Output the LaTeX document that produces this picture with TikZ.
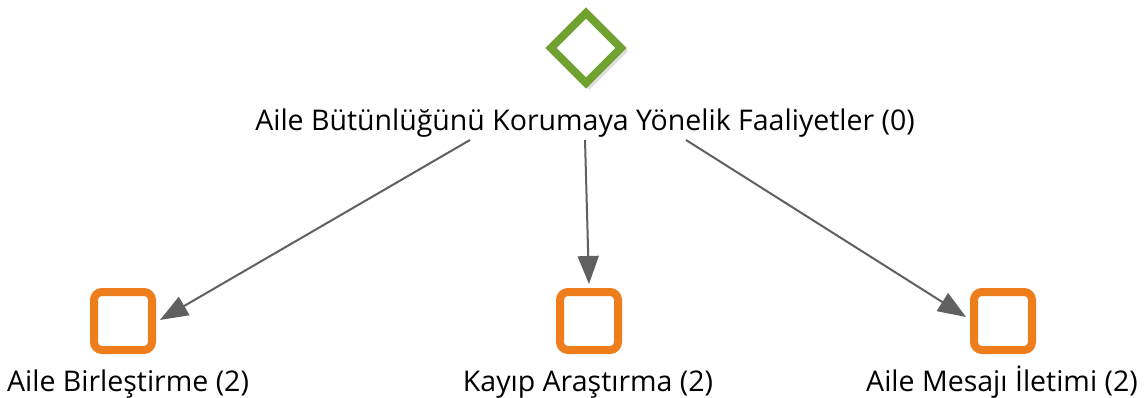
\documentclass[tikz,border=0pt]{standalone}
\usepackage{fontspec}
\setmainfont{Open Sans}
\usetikzlibrary{arrows.meta,shadows}
\definecolor{leafgreen}{HTML}{6FA22E}
\definecolor{boxorange}{HTML}{EE7D1C}
\definecolor{linkgray}{HTML}{606060}
\tikzset{
  x=1pt,y=-1pt,
  sq/.style={draw=boxorange,line width=8pt,fill=white,rounded corners=8pt,minimum size=58pt,inner sep=0pt,
    drop shadow={opacity=0.25,shadow xshift=2pt,shadow yshift=-2pt}},
  lbl/.style={font=\fontsize{28.5}{32}\selectfont,inner sep=0pt,text=black,anchor=base},
  link/.style={draw=linkgray,line width=2pt,-{Triangle[length=28pt,width=21pt]}}
}
\begin{document}
\begin{tikzpicture}
\useasboundingbox (0,0) rectangle (1145,398);
% diamond
\fill[gray,opacity=0.25] (589,12) -- (628,51) -- (589,90) -- (550,51) -- cycle;
\draw[leafgreen,line width=8pt,fill=white,miter limit=10] (586,13) -- (621,48) -- (586,83) -- (551,48) -- cycle;
\node[lbl] (root) at (585,131) {Aile Bütünlüğünü Korumaya Yönelik Faaliyetler (0)};
\node[sq] (s1) at (123,321) {};
\node[sq] (s2) at (589,321) {};
\node[sq] (s3) at (1003,321) {};
\node[lbl] (l1) at (128,391) {Aile Birleştirme (2)};
\node[lbl] (l2) at (588,391) {Kayıp Araştırma (2)};
\node[lbl] (l3) at (1002,391) {Aile Mesajı İletimi (2)};
\coordinate (r1) at (470,140);
\coordinate (r2) at (585,140);
\coordinate (r3) at (686,140);
\coordinate (t1) at (160,320);
\coordinate (t2) at (589,284);
\coordinate (t3) at (966,317);
\draw[link] (r1) -- (t1);
\draw[link] (r2) -- (t2);
\draw[link] (r3) -- (t3);
\end{tikzpicture}
\end{document}
